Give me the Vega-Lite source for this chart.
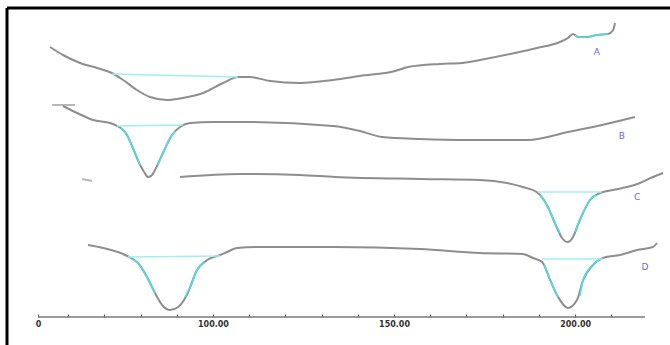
{
  "$schema": "https://vega.github.io/schema/vega-lite/v6.json",
  "width": 663,
  "height": 337,
  "autosize": {"type": "none"},
  "padding": {"left": 7, "top": 8, "right": 0, "bottom": 0},
  "background": "white",
  "config": {"view": {"stroke": null}},
  "datasets": {
    "curves": [
      {"s":"A","x":55.0,"y":306},{"s":"A","x":58.6,"y":298},{"s":"A","x":63.3,"y":290},{"s":"A","x":68.0,"y":285},{"s":"A","x":72.1,"y":280},{"s":"A","x":75.2,"y":273},{"s":"A","x":79.0,"y":263},{"s":"A","x":82.6,"y":256},{"s":"A","x":87.3,"y":253},{"s":"A","x":91.7,"y":255},{"s":"A","x":97.3,"y":260},{"s":"A","x":102.8,"y":270},{"s":"A","x":106.9,"y":276},{"s":"A","x":110.2,"y":276},{"s":"A","x":115.8,"y":272},{"s":"A","x":124.0,"y":270},{"s":"A","x":133.2,"y":273},{"s":"A","x":140.6,"y":277},{"s":"A","x":150.3,"y":282},{"s":"A","x":153.9,"y":286},{"s":"A","x":162.7,"y":289},{"s":"A","x":168.8,"y":290},{"s":"A","x":173.7,"y":293},{"s":"A","x":183.4,"y":300},{"s":"A","x":189.5,"y":305},{"s":"A","x":195.8,"y":311},{"s":"A","x":198.0,"y":315},{"s":"A","x":199.4,"y":319},{"s":"A","x":200.8,"y":316},{"s":"A","x":203.3,"y":316},{"s":"A","x":206.0,"y":318},{"s":"A","x":209.1,"y":319},{"s":"A","x":210.5,"y":323},{"s":"A","x":211.0,"y":330},
      {"s":"B0","x":55.6,"y":248},{"s":"B0","x":61.9,"y":248},
      {"s":"B","x":58.6,"y":247},{"s":"B","x":62.5,"y":240},{"s":"B","x":66.9,"y":233},{"s":"B","x":71.6,"y":230},{"s":"B","x":73.0,"y":228},{"s":"B","x":75.2,"y":223},{"s":"B","x":76.3,"y":218},{"s":"B","x":77.9,"y":205},{"s":"B","x":79.9,"y":188},{"s":"B","x":81.0,"y":181},{"s":"B","x":82.1,"y":176},{"s":"B","x":83.2,"y":178},{"s":"B","x":84.0,"y":183},{"s":"B","x":86.2,"y":200},{"s":"B","x":88.7,"y":218},{"s":"B","x":90.9,"y":226},{"s":"B","x":93.7,"y":230},{"s":"B","x":100.0,"y":231},{"s":"B","x":107.5,"y":231},{"s":"B","x":133.2,"y":227},{"s":"B","x":140.6,"y":222},{"s":"B","x":146.7,"y":216},{"s":"B","x":157.2,"y":214},{"s":"B","x":170.4,"y":213},{"s":"B","x":187.0,"y":213},{"s":"B","x":198.0,"y":221},{"s":"B","x":207.4,"y":228},{"s":"B","x":216.5,"y":236},
      {"s":"C0","x":63.9,"y":174},{"s":"C0","x":66.6,"y":172},
      {"s":"C","x":90.9,"y":176},{"s":"C","x":107.5,"y":179},{"s":"C","x":124.0,"y":178},{"s":"C","x":133.7,"y":176},{"s":"C","x":157.2,"y":174},{"s":"C","x":173.7,"y":173},{"s":"C","x":181.2,"y":170},{"s":"C","x":185.6,"y":166},{"s":"C","x":189.7,"y":160},{"s":"C","x":192.2,"y":148},{"s":"C","x":194.4,"y":130},{"s":"C","x":196.4,"y":115},{"s":"C","x":197.8,"y":111},{"s":"C","x":198.6,"y":112},{"s":"C","x":199.4,"y":116},{"s":"C","x":201.3,"y":133},{"s":"C","x":204.1,"y":153},{"s":"C","x":206.9,"y":160},{"s":"C","x":210.5,"y":163},{"s":"C","x":214.3,"y":166},{"s":"C","x":217.9,"y":170},{"s":"C","x":221.5,"y":176},{"s":"C","x":224.3,"y":180},
      {"s":"D","x":65.5,"y":108},{"s":"D","x":69.6,"y":105},{"s":"D","x":76.3,"y":97},{"s":"D","x":79.3,"y":90},{"s":"D","x":81.8,"y":76},{"s":"D","x":84.0,"y":60},{"s":"D","x":86.2,"y":47},{"s":"D","x":88.1,"y":43},{"s":"D","x":90.4,"y":46},{"s":"D","x":92.8,"y":58},{"s":"D","x":95.6,"y":83},{"s":"D","x":98.4,"y":93},{"s":"D","x":102.0,"y":98},{"s":"D","x":103.9,"y":101},{"s":"D","x":106.6,"y":105},{"s":"D","x":113.0,"y":106},{"s":"D","x":133.2,"y":106},{"s":"D","x":157.2,"y":104},{"s":"D","x":173.7,"y":100},{"s":"D","x":185.6,"y":99},{"s":"D","x":188.4,"y":95},{"s":"D","x":190.9,"y":91},{"s":"D","x":193.1,"y":73},{"s":"D","x":195.3,"y":56},{"s":"D","x":198.0,"y":45},{"s":"D","x":200.5,"y":53},{"s":"D","x":202.2,"y":73},{"s":"D","x":204.9,"y":88},{"s":"D","x":207.7,"y":95},{"s":"D","x":212.4,"y":98},{"s":"D","x":217.1,"y":103},{"s":"D","x":221.5,"y":106},{"s":"D","x":222.6,"y":110}
    ],
    "base": [
      {"s":"A1","x":72.1,"y":279},{"s":"A1","x":106.9,"y":276},
      {"s":"B1","x":73.5,"y":227},{"s":"B1","x":91.7,"y":228},
      {"s":"C1","x":189.7,"y":161},{"s":"C1","x":207.4,"y":161},
      {"s":"D1","x":76.5,"y":96},{"s":"D1","x":102.0,"y":97},
      {"s":"D2","x":190.9,"y":94},{"s":"D2","x":207.7,"y":94}
    ],
    "flank": [
      {"s":"A2","x":200.0,"y":318},{"s":"A2","x":201.3,"y":316},{"s":"A2","x":203.3,"y":316},{"s":"A2","x":206.0,"y":318},{"s":"A2","x":209.1,"y":319},
      {"s":"BL","x":74.5,"y":225},{"s":"BL","x":75.9,"y":220},{"s":"BL","x":77.9,"y":205},{"s":"BL","x":79.9,"y":188},
      {"s":"BR","x":84.8,"y":188},{"s":"BR","x":86.2,"y":200},{"s":"BR","x":88.7,"y":218},{"s":"BR","x":89.6,"y":222},
      {"s":"CL","x":190.2,"y":158},{"s":"CL","x":192.2,"y":148},{"s":"CL","x":194.4,"y":130},{"s":"CL","x":195.8,"y":120},
      {"s":"CR","x":200.0,"y":121},{"s":"CR","x":201.3,"y":133},{"s":"CR","x":204.1,"y":153},{"s":"CR","x":205.8,"y":158},
      {"s":"DL1","x":77.5,"y":94},{"s":"DL1","x":79.3,"y":90},{"s":"DL1","x":81.8,"y":76},{"s":"DL1","x":84.0,"y":60},
      {"s":"DR1","x":92.3,"y":56},{"s":"DR1","x":94.2,"y":70},{"s":"DR1","x":95.6,"y":83},{"s":"DR1","x":97.6,"y":91},
      {"s":"DL2","x":191.5,"y":88},{"s":"DL2","x":193.1,"y":73},{"s":"DL2","x":195.3,"y":56},
      {"s":"DR2","x":201.3,"y":57},{"s":"DR2","x":202.2,"y":73},{"s":"DR2","x":204.9,"y":88},{"s":"DR2","x":206.6,"y":93}
    ],
    "labels": [
      {"t":"A","x":206.0,"y":301},
      {"t":"B","x":212.9,"y":217},
      {"t":"C","x":217.1,"y":156},
      {"t":"D","x":219.3,"y":86}
    ],
    "axisline": [{"x":51.7,"x2":219.3,"y":36}],
    "frame": [{"left":43.14,"top":345}]
  },
  "encoding": {
    "x": {"field": "x", "type": "quantitative", "scale": {"domain": [43.14, 226.19], "nice": false, "zero": false}, "title": null},
    "y": {"field": "y", "type": "quantitative", "scale": {"domain": [8, 345], "nice": false, "zero": false}, "title": null}
  },
  "layer": [
    {
      "data": {"name": "axisline"},
      "mark": {"type": "rule", "color": "#7a7a7a", "strokeWidth": 1.5},
      "encoding": {
        "x": {"field": "x", "type": "quantitative", "scale": {"domain": [43.14, 226.19], "nice": false, "zero": false},
          "axis": {"orient": "bottom", "offset": -28, "domain": false, "grid": false,
            "values": [51.7,60,70,80,90,100,110,120,130,140,150,160,170,180,190,200,210],
            "labelExpr": "datum.value < 55 ? '0' : (datum.value % 50 == 0 ? format(datum.value, '.2f') : '')",
            "tickSize": -3, "tickColor": "#555", "tickWidth": 1.2,
            "labelFont": "DejaVu Sans", "labelFontSize": 8, "labelColor": "#333", "labelPadding": 6, "labelFontWeight": "bold"},
          "title": null},
        "x2": {"field": "x2"},
        "y": {"field": "y", "type": "quantitative", "axis": null}
      }
    },
    {
      "data": {"name": "curves"},
      "mark": {"type": "line", "strokeWidth": 2, "interpolate": "monotone"},
      "encoding": {
        "detail": {"field": "s"},
        "color": {"condition": {"test": "datum.s == 'B0' || datum.s == 'C0'", "value": "#b8b8b8"}, "value": "#8e8e8e"}
      }
    },
    {
      "data": {"name": "base"},
      "mark": {"type": "line", "color": "#9ef0f4", "strokeWidth": 1.3},
      "encoding": {"detail": {"field": "s"}}
    },
    {
      "data": {"name": "flank"},
      "mark": {"type": "line", "color": "#4fdce6", "strokeWidth": 1.7, "interpolate": "monotone"},
      "encoding": {"detail": {"field": "s"}}
    },
    {
      "data": {"name": "labels"},
      "mark": {"type": "text", "color": "#6b6be0", "font": "DejaVu Sans", "fontSize": 9},
      "encoding": {"text": {"field": "t"}}
    },
    {
      "data": {"name": "frame"},
      "mark": {"type": "rule", "color": "black", "strokeWidth": 3},
      "encoding": {"x": {"field": "left", "type": "quantitative"}, "y": null}
    },
    {
      "data": {"name": "frame"},
      "mark": {"type": "rule", "color": "black", "strokeWidth": 3},
      "encoding": {"y": {"field": "top", "type": "quantitative"}, "x": null}
    }
  ]
}
